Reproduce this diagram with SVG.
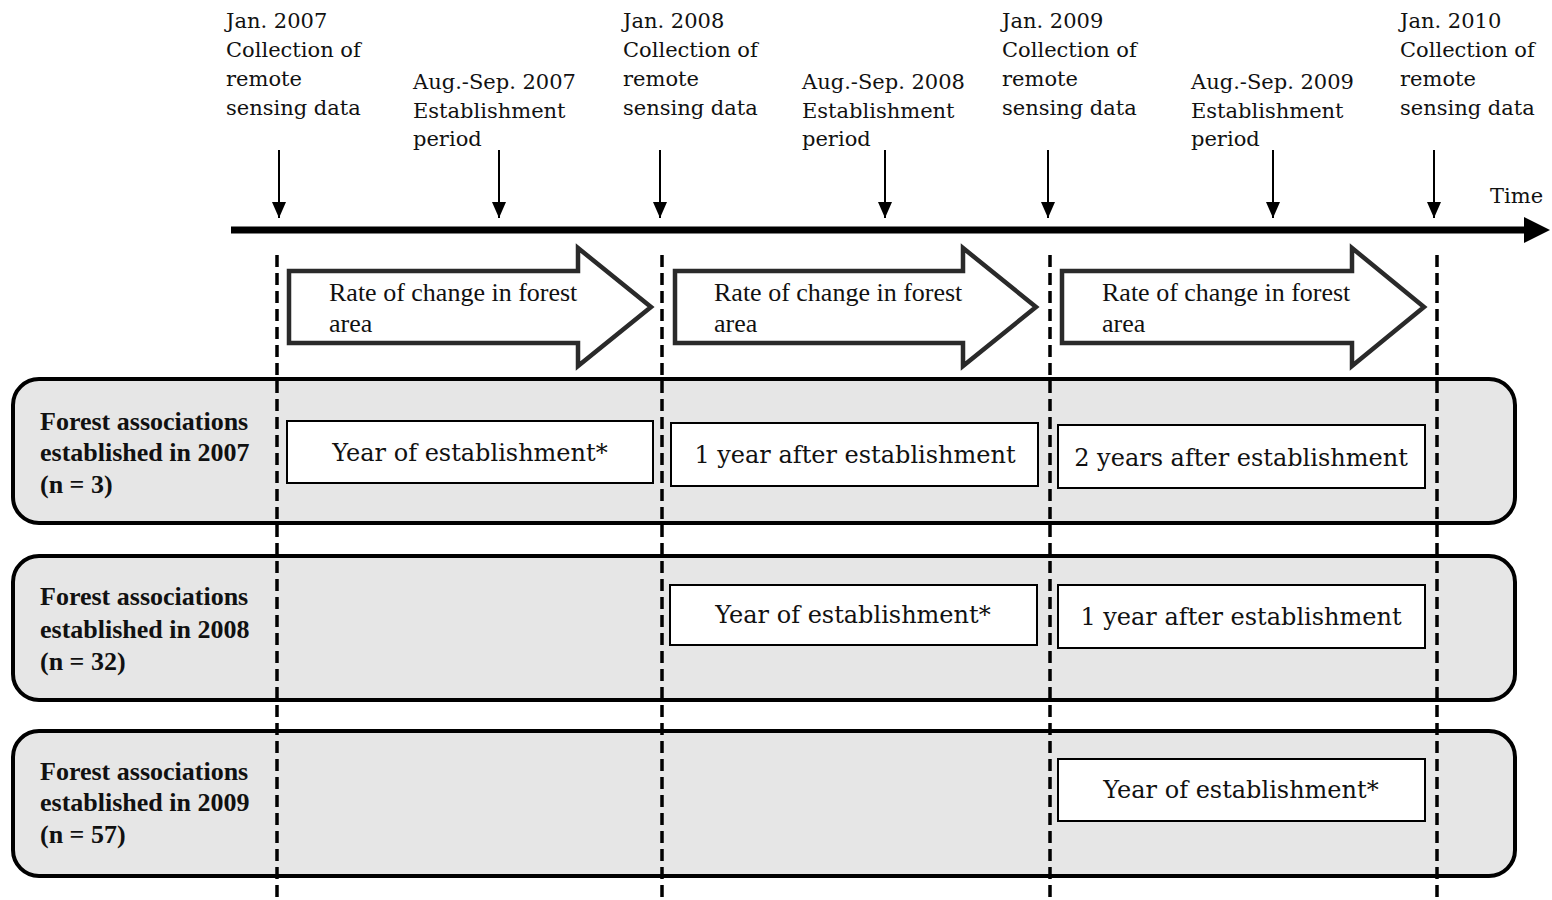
<svg xmlns="http://www.w3.org/2000/svg" width="1552" height="900" viewBox="0 0 1552 900">
<style>
.top{font-family:"DejaVu Serif","Liberation Serif",serif;font-size:21px;fill:#111}
.box{font-family:"DejaVu Serif","Liberation Serif",serif;font-size:24px;fill:#111;text-anchor:middle}
.arr{font-family:"Liberation Serif","Times New Roman",serif;font-size:26px;fill:#111}
.lab{font-family:"Liberation Serif","Times New Roman",serif;font-size:26px;font-weight:bold;fill:#111}
.row{fill:#e6e6e6;stroke:#000;stroke-width:4}
.cell{fill:#fff;stroke:#000;stroke-width:2}
.big{fill:#fff;stroke:#2a2a2a;stroke-width:4.5;stroke-linejoin:miter}
.dash{stroke:#000;stroke-width:3.5;stroke-dasharray:12 6;fill:none}
.tick{stroke:#000;stroke-width:2;fill:none}
</style>
<defs>
<marker id="ah" viewBox="0 0 16 14" refX="16" refY="7" markerWidth="16" markerHeight="14" markerUnits="userSpaceOnUse" orient="auto">
<path d="M0,0 L16,7 L0,14 Z" fill="#000"/>
</marker>
</defs>

<g id="rows">
<g id="row2007">
<rect class="row" x="13" y="379" width="1502" height="144" rx="26"/>
<text class="lab" x="40" y="430">Forest associations</text>
<text class="lab" x="40" y="461">established in 2007</text>
<text class="lab" x="40" y="493">(n = 3)</text>
</g>
<g id="row2008">
<rect class="row" x="13" y="556" width="1502" height="144" rx="26"/>
<text class="lab" x="40" y="605">Forest associations</text>
<text class="lab" x="40" y="638">established in 2008</text>
<text class="lab" x="40" y="670">(n = 32)</text>
</g>
<g id="row2009">
<rect class="row" x="13" y="731" width="1502" height="145" rx="26"/>
<text class="lab" x="40" y="780">Forest associations</text>
<text class="lab" x="40" y="811">established in 2009</text>
<text class="lab" x="40" y="843">(n = 57)</text>
</g>
</g>

<g id="cells">
<g id="c2007a"><rect class="cell" x="287" y="421" width="366" height="62"/><text class="box" x="470" y="461">Year of establishment*</text></g>
<g id="c2007b"><rect class="cell" x="671" y="423" width="367" height="63"/><text class="box" x="855" y="463">1 year after establishment</text></g>
<g id="c2007c"><rect class="cell" x="1058" y="425" width="367" height="63"/><text class="box" x="1241" y="466">2 years after establishment</text></g>
<g id="c2008a"><rect class="cell" x="670" y="585" width="367" height="60"/><text class="box" x="853" y="623">Year of establishment*</text></g>
<g id="c2008b"><rect class="cell" x="1058" y="585" width="367" height="63"/><text class="box" x="1241" y="625">1 year after establishment</text></g>
<g id="c2009a"><rect class="cell" x="1058" y="759" width="367" height="62"/><text class="box" x="1241" y="798">Year of establishment*</text></g>
</g>

<g id="change-arrows">
<g id="chg1"><path class="big" d="M289,271 H578 V248 L651,307 L578,366 V343 H289 Z"/><text class="arr" x="329" y="301">Rate of change in forest</text><text class="arr" x="329" y="332">area</text></g>
<g id="chg2"><path class="big" d="M675,271 H963 V248 L1036,307 L963,366 V343 H675 Z"/><text class="arr" x="714" y="301">Rate of change in forest</text><text class="arr" x="714" y="332">area</text></g>
<g id="chg3"><path class="big" d="M1062,271 H1352 V248 L1424,307 L1352,366 V343 H1062 Z"/><text class="arr" x="1102" y="301">Rate of change in forest</text><text class="arr" x="1102" y="332">area</text></g>
</g>

<g id="connectors">
<line class="dash" x1="277" y1="255" x2="277" y2="900"/>
<line class="dash" x1="662" y1="255" x2="662" y2="900"/>
<line class="dash" x1="1050" y1="255" x2="1050" y2="900"/>
<line class="dash" x1="1437" y1="255" x2="1437" y2="900"/>
<line x1="231" y1="230" x2="1526" y2="230" stroke="#000" stroke-width="7"/>
<path d="M1524,217 L1550,230 L1524,243 Z" fill="#000"/>
<line class="tick" x1="279" y1="150" x2="279" y2="218" marker-end="url(#ah)"/>
<line class="tick" x1="499" y1="150" x2="499" y2="218" marker-end="url(#ah)"/>
<line class="tick" x1="660" y1="150" x2="660" y2="218" marker-end="url(#ah)"/>
<line class="tick" x1="885" y1="150" x2="885" y2="218" marker-end="url(#ah)"/>
<line class="tick" x1="1048" y1="150" x2="1048" y2="218" marker-end="url(#ah)"/>
<line class="tick" x1="1273" y1="150" x2="1273" y2="218" marker-end="url(#ah)"/>
<line class="tick" x1="1434" y1="150" x2="1434" y2="218" marker-end="url(#ah)"/>
</g>

<g id="labels">
<g id="jan2007"><text class="top" x="226" y="28">Jan. 2007</text><text class="top" x="226" y="57">Collection of</text><text class="top" x="226" y="86">remote</text><text class="top" x="226" y="115">sensing data</text></g>
<g id="aug2007"><text class="top" x="413" y="89">Aug.-Sep. 2007</text><text class="top" x="413" y="118">Establishment</text><text class="top" x="413" y="146">period</text></g>
<g id="jan2008"><text class="top" x="623" y="28">Jan. 2008</text><text class="top" x="623" y="57">Collection of</text><text class="top" x="623" y="86">remote</text><text class="top" x="623" y="115">sensing data</text></g>
<g id="aug2008"><text class="top" x="802" y="89">Aug.-Sep. 2008</text><text class="top" x="802" y="118">Establishment</text><text class="top" x="802" y="146">period</text></g>
<g id="jan2009"><text class="top" x="1002" y="28">Jan. 2009</text><text class="top" x="1002" y="57">Collection of</text><text class="top" x="1002" y="86">remote</text><text class="top" x="1002" y="115">sensing data</text></g>
<g id="aug2009"><text class="top" x="1191" y="89">Aug.-Sep. 2009</text><text class="top" x="1191" y="118">Establishment</text><text class="top" x="1191" y="146">period</text></g>
<g id="jan2010"><text class="top" x="1400" y="28">Jan. 2010</text><text class="top" x="1400" y="57">Collection of</text><text class="top" x="1400" y="86">remote</text><text class="top" x="1400" y="115">sensing data</text></g>
<text class="top" x="1490" y="203">Time</text>
</g>
</svg>
